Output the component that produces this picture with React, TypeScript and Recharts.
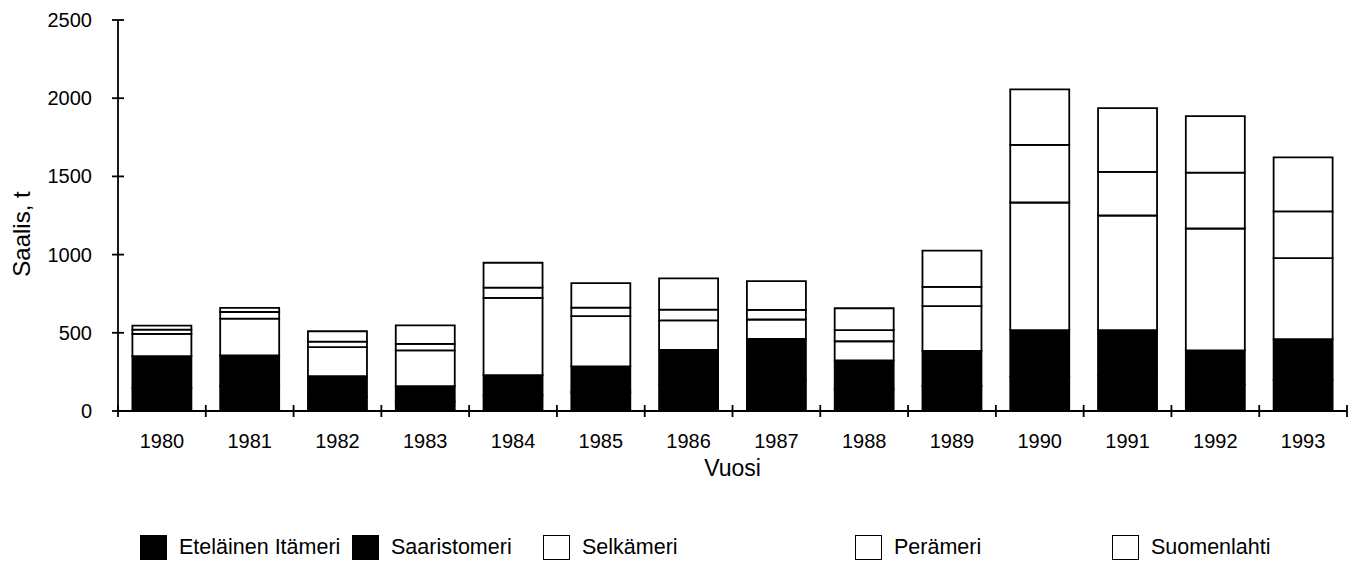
import React from 'react';
import { BarChart, Bar, XAxis, YAxis, Label } from 'recharts';

const years = ['1980', '1981', '1982', '1983', '1984', '1985', '1986', '1987', '1988', '1989', '1990', '1991', '1992', '1993'];
const etelainenItameri = [150, 160, 90, 60, 100, 120, 170, 200, 140, 160, 220, 230, 170, 200];
const saaristomeri = [201, 195, 133, 99, 130, 165, 221, 261, 183, 225, 297, 287, 217, 259];
const selkameri = [142, 236, 185, 228, 493, 321, 189, 124, 123, 285, 816, 733, 780, 519];
const peramerı = [27, 42, 36, 42, 66, 55, 68, 61, 71, 123, 368, 279, 357, 298];
const suomenlahti = [26, 26, 66, 119, 159, 157, 200, 185, 140, 232, 355, 408, 362, 346];
const yTicks = [0, 500, 1000, 1500, 2000, 2500];

const seriesNames = ['Eteläinen Itämeri', 'Saaristomeri', 'Selkämeri', 'Perämeri', 'Suomenlahti'];
const seriesKeys = ['etelainen', 'saaristo', 'selka', 'pera', 'suomen'];
const seriesFills = ['#000', '#000', '#fff', '#fff', '#fff'];

const data = years.map((y, i) => ({
  year: y,
  etelainen: etelainenItameri[i],
  saaristo: saaristomeri[i],
  selka: selkameri[i],
  pera: peramerı[i],
  suomen: suomenlahti[i],
}));

const FONT = '"Liberation Sans", Arial, Helvetica, sans-serif';
const legendLefts = [132, 344, 535, 847, 1104];

const XTick = (props: any) => {
  const { x, y, payload, index } = props;
  const off = payload && payload.offset ? payload.offset : 44;
  return (
    <g>
      <line x1={x - off} x2={x - off} y1={y - 6} y2={y + 6} stroke="#000" strokeWidth={1.8} />
      {index === years.length - 1 && (
        <line x1={x + off} x2={x + off} y1={y - 6} y2={y + 6} stroke="#000" strokeWidth={1.8} />
      )}
      <text x={x} y={y + 37} textAnchor="middle" fontSize={20} fontFamily={FONT} fill="#000">
        {payload.value}
      </text>
    </g>
  );
};

const YTick = (props: any) => {
  const { x, y, payload } = props;
  return (
    <g>
      <line x1={x - 6} x2={x + 6} y1={y} y2={y} stroke="#000" strokeWidth={1.8} />
      <text x={x - 26} y={y + 7} textAnchor="end" fontSize={20} fontFamily={FONT} fill="#000">
        {payload.value}
      </text>
    </g>
  );
};

export default function App() {
  return (
    <div style={{ position: 'relative', width: 1350, height: 567, background: '#fff' }}>
      <BarChart
        width={1350}
        height={567}
        data={data}
        margin={{ top: 12, right: 11, left: 0, bottom: 84 }}
        barCategoryGap="16.4%"
      >
        <XAxis
          dataKey="year"
          height={80}
          tickLine={false}
          tickSize={0}
          tickMargin={0}
          axisLine={{ stroke: '#000', strokeWidth: 1.8 }}
          tick={<XTick />}
          interval={0}
        >
          <Label
            content={(p: any) => {
              const vb = p.viewBox || {};
              return (
                <text x={vb.x + vb.width / 2} y={vb.y + 65} textAnchor="middle" fontSize={23} fontFamily={FONT} fill="#000">
                  Vuosi
                </text>
              );
            }}
          />
        </XAxis>
        <YAxis
          width={110}
          domain={[0, 2500]}
          ticks={yTicks}
          tickLine={false}
          tickSize={0}
          tickMargin={0}
          axisLine={{ stroke: '#000', strokeWidth: 1.8 }}
          tick={<YTick />}
          interval={0}
        >
          <Label
            content={() => (
              <text x={22} y={226} transform="rotate(-90 22 226)" textAnchor="middle" fontSize={24} fontFamily={FONT} fill="#000">
                Saalis, t
              </text>
            )}
          />
        </YAxis>
        {seriesKeys.map((k, i) => (
          <Bar
            key={k}
            dataKey={k}
            name={seriesNames[i]}
            stackId="a"
            fill={seriesFills[i]}
            stroke="#000"
            strokeWidth={1.8}
            isAnimationActive={false}
          />
        ))}
      </BarChart>
      {seriesNames.map((n, i) => (
        <div
          key={n}
          style={{
            position: 'absolute',
            left: legendLefts[i],
            top: 527,
            display: 'flex',
            alignItems: 'center',
            fontFamily: FONT,
            fontSize: 21.5,
            color: '#000',
            whiteSpace: 'nowrap',
          }}
        >
          <span
            style={{
              display: 'inline-block',
              width: 27,
              height: 25,
              boxSizing: 'border-box',
              border: '1.5px solid #000',
              background: seriesFills[i],
              marginRight: 12,
            }}
          />
          <span>{n}</span>
        </div>
      ))}
    </div>
  );
}
